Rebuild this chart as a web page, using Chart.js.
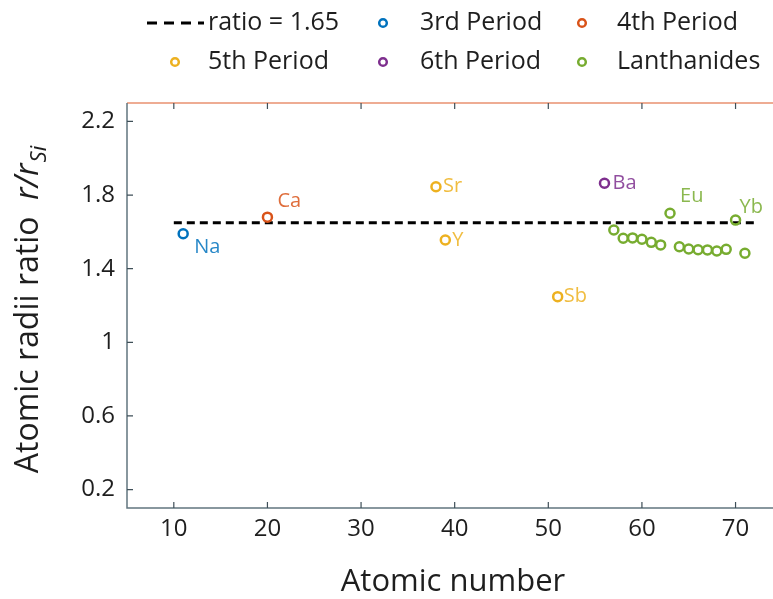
<!DOCTYPE html>
<html>
<head>
<meta charset="utf-8">
<script src="https://cdn.jsdelivr.net/npm/chart.js@4/dist/chart.umd.min.js"></script>
<style>
  html, body { margin: 0; padding: 0; background: #fff; }
  #wrap { width: 773px; height: 599px; }
</style>
</head>
<body>
<div id="wrap"><canvas id="chart" width="773" height="599"></canvas></div>
<script>
// reference line
const ratioX = [10, 72];
const ratioY = [1.65, 1.65];

// periods
const period3X = [11];
const period3Y = [1.59];
const period3Names = ['Na'];

const period4X = [20];
const period4Y = [1.68];
const period4Names = ['Ca'];

const period5X = [38, 39, 51];
const period5Y = [1.845, 1.556, 1.248];
const period5Names = ['Sr', 'Y', 'Sb'];

const period6X = [56];
const period6Y = [1.864];
const period6Names = ['Ba'];

const lanthX = [57, 58, 59, 60, 61, 62, 63, 64, 65, 66, 67, 68, 69, 70, 71];
const lanthY = [1.61, 1.565, 1.567, 1.56, 1.543, 1.529, 1.701, 1.519, 1.507, 1.503, 1.502, 1.496, 1.505, 1.664, 1.484];
const lanthNames = ['', '', '', '', '', '', 'Eu', '', '', '', '', '', '', 'Yb', ''];

const xTicks = [10, 20, 30, 40, 50, 60, 70];
const yTicks = [0.2, 0.6, 1, 1.4, 1.8, 2.2];

const FONT = '"Open Sans", Lato, sans-serif';
const COLORS = {
  p3: '#0072BD',
  p4: '#D95319',
  p5: '#EDB120',
  p6: '#7E2F8E',
  lan: '#77AC30'
};

const toPts = (xs, ys) => xs.map((x, i) => ({ x: x, y: ys[i] }));

function pointSet(label, xs, ys, names, color) {
  return {
    label: label,
    type: 'scatter',
    data: toPts(xs, ys),
    names: names,
    borderColor: color,
    backgroundColor: 'rgba(0,0,0,0)',
    pointRadius: 4.5,
    pointBorderWidth: 2.5,
    pointHoverRadius: 4.5,
    order: 0
  };
}

// label offsets (text start / middle relative to the marker)
const labelOffset = {
  Na: [11, 14], Ca: [10, -16], Sr: [7, 0], Y: [7, 0], Sb: [6, 0],
  Ba: [8, 0], Eu: [10, -17], Yb: [4, -13]
};

const pointLabels = {
  id: 'pointLabels',
  afterDatasetsDraw(chart) {
    const ctx = chart.ctx;
    ctx.save();
    ctx.font = '20px ' + FONT;
    ctx.textAlign = 'left';
    ctx.textBaseline = 'middle';
    chart.data.datasets.forEach((ds, i) => {
      if (!ds.names) return;
      const meta = chart.getDatasetMeta(i);
      ds.names.forEach((n, j) => {
        if (!n) return;
        const el = meta.data[j];
        const off = labelOffset[n] || [7, 0];
        ctx.fillStyle = ds.borderColor;
        ctx.globalAlpha = 0.85;
        ctx.fillText(n, el.x + off[0], el.y + off[1]);
      });
    });
    ctx.restore();
  }
};

const axesFrame = {
  id: 'axesFrame',
  afterDraw(chart) {
    const ctx = chart.ctx;
    const a = chart.chartArea;
    const xs = chart.scales.x;
    const ys = chart.scales.y;
    ctx.save();
    // top border
    ctx.strokeStyle = '#e9906f';
    ctx.lineWidth = 1.5;
    ctx.beginPath();
    ctx.moveTo(a.left, a.top);
    ctx.lineTo(a.right, a.top);
    ctx.stroke();
    // left / bottom axes
    ctx.strokeStyle = '#62757f';
    ctx.beginPath();
    ctx.moveTo(a.left, a.top);
    ctx.lineTo(a.left, a.bottom);
    ctx.lineTo(a.right, a.bottom);
    ctx.stroke();
    // inward ticks
    ctx.strokeStyle = '#3f4f58';
    ctx.lineWidth = 1.2;
    ctx.beginPath();
    xTicks.forEach(v => {
      const px = xs.getPixelForValue(v);
      ctx.moveTo(px, a.bottom);
      ctx.lineTo(px, a.bottom - 6);
      ctx.moveTo(px, a.top);
      ctx.lineTo(px, a.top + 6);
    });
    yTicks.forEach(v => {
      const py = ys.getPixelForValue(v);
      ctx.moveTo(a.left, py);
      ctx.lineTo(a.left + 6, py);
    });
    ctx.stroke();

    // axis titles
    ctx.fillStyle = '#1e1e1e';
    ctx.font = '31px ' + FONT;
    ctx.textAlign = 'center';
    ctx.textBaseline = 'middle';
    ctx.fillText('Atomic number', 453, 582);

    // y title with italic r/r and subscript Si
    ctx.translate(27, 310);
    ctx.rotate(-Math.PI / 2);
    ctx.textAlign = 'left';
    ctx.textBaseline = 'alphabetic';
    const part1 = 'Atomic radii ratio  ';
    const part2 = 'r/r';
    const part3 = 'Si';
    ctx.font = '32px ' + FONT;
    const w1 = ctx.measureText(part1).width;
    ctx.font = 'italic 32px ' + FONT;
    const w2 = ctx.measureText(part2).width;
    ctx.font = 'italic 22px ' + FONT;
    const w3 = ctx.measureText(part3).width;
    let x0 = -(w1 + w2 + w3) / 2;
    const base = 11;
    ctx.font = '32px ' + FONT;
    ctx.fillText(part1, x0, base);
    ctx.font = 'italic 32px ' + FONT;
    ctx.fillText(part2, x0 + w1, base);
    ctx.font = 'italic 22px ' + FONT;
    ctx.fillText(part3, x0 + w1 + w2 + 1, base + 8);
    ctx.restore();
  }
};

const customLegend = {
  id: 'customLegend',
  afterDraw(chart) {
    const ctx = chart.ctx;
    ctx.save();
    ctx.font = '25px ' + FONT;
    ctx.fillStyle = '#1e1e1e';
    ctx.textAlign = 'left';
    ctx.textBaseline = 'middle';
    // dashed sample
    ctx.strokeStyle = '#000';
    ctx.lineWidth = 3;
    ctx.setLineDash([10, 7]);
    ctx.beginPath();
    ctx.moveTo(147, 23);
    ctx.lineTo(204, 23);
    ctx.stroke();
    ctx.setLineDash([]);
    ctx.fillText(chart.data.datasets[0].label, 208, 23);

    const items = [
      [1, 383, 420, 23], [2, 582, 617, 23],
      [3, 175, 208, 62], [4, 383, 420, 62], [5, 582, 617, 62]
    ];
    items.forEach(([i, mx, tx, y]) => {
      const ds = chart.data.datasets[i];
      ctx.strokeStyle = ds.borderColor;
      ctx.lineWidth = 2.5;
      ctx.beginPath();
      ctx.arc(mx, y, 3.8, 0, Math.PI * 2);
      ctx.stroke();
      ctx.fillStyle = '#1e1e1e';
      ctx.fillText(ds.label, tx, y);
    });
    ctx.restore();
  }
};

new Chart(document.getElementById('chart'), {
  data: {
    datasets: [
      {
        label: 'ratio = 1.65',
        type: 'line',
        data: toPts(ratioX, ratioY),
        borderColor: '#000',
        borderWidth: 3,
        borderDash: [8, 5],
        pointRadius: 0,
        fill: false,
        order: 1
      },
      pointSet('3rd Period', period3X, period3Y, period3Names, COLORS.p3),
      pointSet('4th Period', period4X, period4Y, period4Names, COLORS.p4),
      pointSet('5th Period', period5X, period5Y, period5Names, COLORS.p5),
      pointSet('6th Period', period6X, period6Y, period6Names, COLORS.p6),
      pointSet('Lanthanides', lanthX, lanthY, lanthNames, COLORS.lan)
    ]
  },
  options: {
    responsive: false,
    devicePixelRatio: 1,
    animation: false,
    layout: { autoPadding: false, padding: { top: 103, left: 0, right: 0, bottom: 0 } },
    plugins: { legend: { display: false }, tooltip: { enabled: false } },
    scales: {
      x: {
        type: 'linear',
        min: 5,
        max: 74,
        afterBuildTicks: s => { s.ticks = xTicks.map(v => ({ value: v })); },
        afterFit: s => { s.height = 91; s.paddingLeft = 0; s.paddingRight = 0; },
        grid: { display: false, drawTicks: false },
        border: { display: false },
        ticks: {
          padding: 7,
          color: '#1e1e1e',
          font: { family: FONT, size: 24 },
          callback: v => String(v)
        }
      },
      y: {
        type: 'linear',
        min: 0.1,
        max: 2.3,
        afterBuildTicks: s => { s.ticks = yTicks.map(v => ({ value: v })); },
        afterFit: s => { s.width = 127; s.paddingTop = 0; s.paddingBottom = 0; },
        grid: { display: false, drawTicks: false },
        border: { display: false },
        ticks: {
          padding: 12,
          color: '#1e1e1e',
          font: { family: FONT, size: 24 },
          callback: v => String(Math.round(v * 10) / 10)
        }
      }
    }
  },
  plugins: [pointLabels, axesFrame, customLegend]
});
</script>
</body>
</html>
